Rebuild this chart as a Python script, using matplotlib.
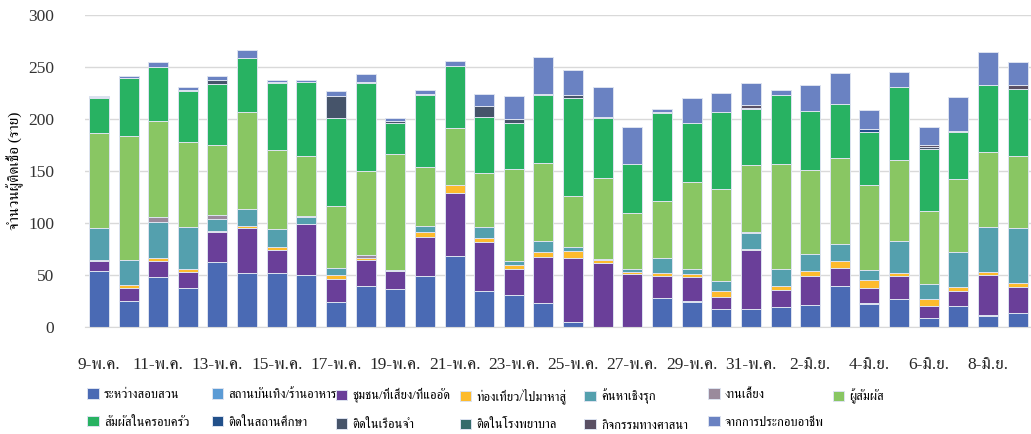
import matplotlib
matplotlib.use("Agg")
import matplotlib.pyplot as plt
import numpy as np
from matplotlib import font_manager
from matplotlib.ft2font import FT2Font

# days shown on the x axis (9 May - 9 Jun)
days = ["9-พ.ค.", "10-พ.ค.", "11-พ.ค.", "12-พ.ค.", "13-พ.ค.", "14-พ.ค.", "15-พ.ค.", "16-พ.ค.",
        "17-พ.ค.", "18-พ.ค.", "19-พ.ค.", "20-พ.ค.", "21-พ.ค.", "22-พ.ค.", "23-พ.ค.", "24-พ.ค.",
        "25-พ.ค.", "26-พ.ค.", "27-พ.ค.", "28-พ.ค.", "29-พ.ค.", "30-พ.ค.", "31-พ.ค.", "1-มิ.ย.",
        "2-มิ.ย.", "3-มิ.ย.", "4-มิ.ย.", "5-มิ.ย.", "6-มิ.ย.", "7-มิ.ย.", "8-มิ.ย.", "9-มิ.ย."]

categories = ["ระหว่างสอบสวน", "สถานบันเทิง/ร้านอาหาร", "ชุมชน/ที่เสี่ยง/ที่แออัด", "ท่องเที่ยว/ไปมาหาสู่",
              "ค้นหาเชิงรุก", "งานเลี้ยง", "ผู้สัมผัส", "สัมผัสในครอบครัว", "ติดในสถานศึกษา",
              "ติดในเรือนจำ", "ติดในโรงพยาบาล", "กิจกรรมทางศาสนา", "จากการประกอบอาชีพ"]

investigating = [54, 25, 48, 37, 62, 52, 52, 50, 24, 39, 36, 49, 68, 34, 31, 23, 5, 0, 0, 28, 24, 17, 17, 19, 21, 39, 22, 27, 8, 20, 10, 13]
entertainment = [0, 0, 0, 0, 0, 0, 0, 0, 0, 0, 0, 0, 0, 0, 0, 0, 0, 0, 0, 0, 1, 0, 0, 0, 0, 0, 1, 0, 0, 0, 1, 0]
community = [9, 12, 15, 16, 29, 43, 22, 49, 22, 25, 18, 37, 61, 48, 25, 44, 61, 61, 51, 21, 23, 12, 57, 16, 28, 18, 14, 22, 12, 14, 39, 25]
travel = [1, 3, 3, 3, 1, 2, 3, 0, 4, 2, 1, 5, 8, 3, 3, 5, 7, 3, 2, 3, 3, 5, 1, 4, 5, 6, 8, 3, 7, 4, 3, 4]
active_search = [31, 24, 35, 40, 12, 16, 17, 7, 7, 0, 0, 6, 0, 11, 4, 11, 4, 0, 3, 14, 5, 10, 15, 17, 16, 17, 10, 31, 14, 34, 43, 53]
party = [0, 0, 5, 0, 4, 0, 0, 1, 0, 3, 0, 0, 0, 0, 0, 0, 0, 1, 0, 0, 0, 0, 1, 0, 0, 0, 0, 0, 0, 0, 0, 0]
contacts = [92, 120, 92, 82, 67, 94, 76, 57, 59, 81, 111, 57, 54, 52, 89, 75, 49, 78, 54, 55, 83, 89, 65, 101, 81, 83, 82, 78, 70, 70, 72, 69]
family = [33, 56, 52, 49, 59, 52, 65, 72, 85, 85, 30, 69, 60, 54, 44, 65, 94, 58, 47, 85, 57, 74, 54, 66, 57, 52, 51, 70, 60, 46, 65, 65]
school = [1, 0, 0, 1, 0, 0, 0, 0, 0, 0, 0, 0, 0, 0, 0, 0, 0, 0, 0, 0, 0, 0, 1, 0, 0, 0, 2, 0, 0, 0, 0, 0]
prison = [0, 0, 0, 0, 4, 0, 1, 0, 21, 1, 2, 1, 0, 11, 4, 1, 3, 0, 0, 0, 0, 0, 0, 0, 0, 0, 0, 0, 2, 1, 0, 0]
hospital = [0, 0, 0, 0, 0, 0, 0, 0, 0, 0, 0, 0, 0, 0, 0, 0, 0, 0, 0, 0, 0, 0, 0, 0, 0, 0, 0, 0, 0, 0, 0, 0]
religion = [0, 0, 0, 0, 0, 0, 0, 0, 0, 0, 0, 0, 0, 0, 0, 0, 0, 1, 0, 1, 0, 0, 3, 0, 0, 0, 0, 0, 2, 0, 0, 4]
occupation = [1, 2, 5, 3, 4, 8, 2, 2, 5, 7, 3, 4, 5, 11, 22, 36, 24, 29, 35, 3, 24, 18, 21, 5, 25, 29, 19, 14, 17, 32, 32, 22]

series = [investigating, entertainment, community, travel, active_search, party, contacts,
          family, school, prison, hospital, religion, occupation]
colors = ["#4A6AB4", "#5B9BD5", "#6A3F99", "#FDBB2D", "#54A0AE", "#9A8A9C", "#89C663",
          "#28B262", "#22508A", "#46546A", "#336B6B", "#5A5064", "#6A82C2"]


def find_thai_font():
    # pick any installed font that has Thai glyphs, serif first
    found = []
    for f in font_manager.fontManager.ttflist:
        try:
            if 0x0E01 in FT2Font(f.fname).get_charmap():
                found.append(f.name)
        except Exception:
            pass
    for name in found:
        if "Serif" in name:
            return name
    return found[0] if found else "DejaVu Sans"


thai = find_thai_font()
plt.rcParams['font.family'] = ['Liberation Serif', thai, 'DejaVu Sans']

fig = plt.figure(figsize=(10.31, 4.34), dpi=100)
ax = fig.add_axes([0.0824, 0.2472, 0.9176, 0.7175])

x = np.arange(len(days))
bottom = np.zeros(len(days))
bars = []
for vals, col, name in zip(series, colors, categories):
    b = ax.bar(x, vals, 0.675, bottom=bottom, color=col, edgecolor="#dde3f0", linewidth=0.7, label=name)
    bars.append(b)
    bottom += np.array(vals)

ax.set_xlim(-0.47, len(days) - 0.55)
ax.set_ylim(0, 300)
ax.set_yticks([0, 50, 100, 150, 200, 250, 300])
ax.set_xticks(x[::2])
ax.set_xticklabels(days[::2], fontsize=12.5, color="#262626")
ax.tick_params(axis="x", length=0, pad=22)
ax.tick_params(axis="y", length=0, pad=22, labelsize=12.5, labelcolor="#333333")
ax.grid(axis="y", color="#d9d9d9", linewidth=1)
ax.set_axisbelow(True)
for s in ["top", "right", "left"]:
    ax.spines[s].set_visible(False)
ax.spines["bottom"].set_color("#d9d9d9")
ax.set_ylabel("จำนวนผู้ติดเชื้อ (ราย)", fontsize=11, labelpad=3)

# legend: 7 columns at fixed spacing, one small legend per column
for k in range(7):
    idx = [k] if k + 7 >= len(categories) else [k, k + 7]
    leg = fig.legend([bars[i] for i in idx], [categories[i] for i in idx],
                     loc="upper left", bbox_to_anchor=((81 + 124.2 * k) / 1031, 1 - 382 / 434),
                     frameon=False, fontsize=9.2, handlelength=0.9, handleheight=0.9,
                     handletextpad=0.4, labelspacing=1.15, borderpad=0)

fig.savefig("out.png", dpi=100)
